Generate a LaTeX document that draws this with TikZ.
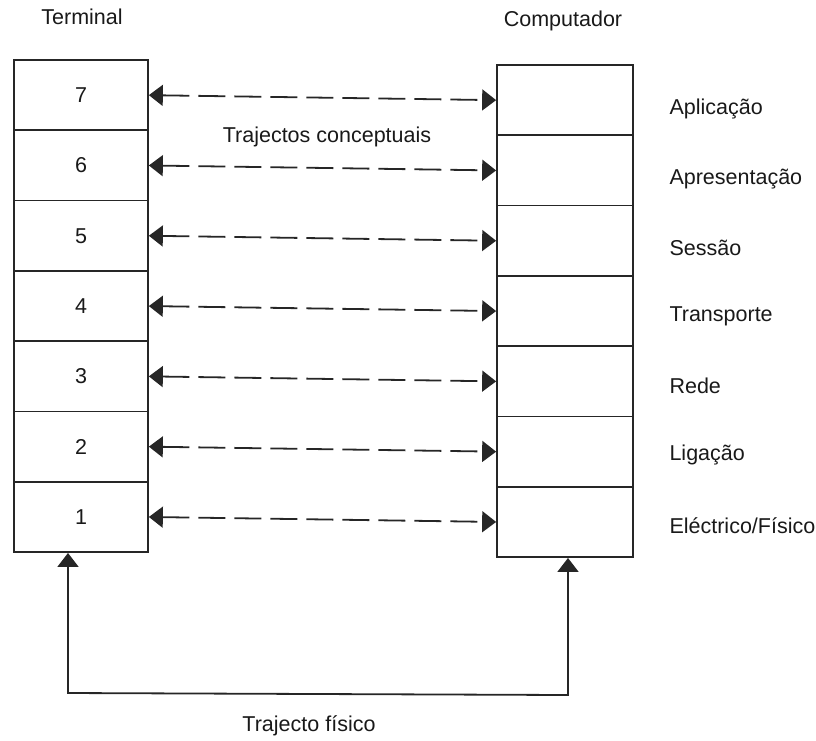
\documentclass[tikz,border=0pt]{standalone}
\usepackage{fontspec}
\setmainfont{Liberation Sans}
\usetikzlibrary{arrows.meta}
\begin{document}
\begin{tikzpicture}[x=1pt,y=-1pt,
  every node/.style={font=\fontsize{21.5}{25}\selectfont, text=black!90},
  layer/.style={draw=black!85, line width=1.7pt, minimum height=70.3pt, inner sep=0pt},
  lbox/.style={layer, minimum width=134pt},
  rbox/.style={layer, minimum width=136pt},
  lbl/.style={anchor=west},
  concept/.style={draw=black!85, line width=1.8pt, dash pattern=on 27pt off 9pt,
    {Triangle[length=14pt,width=21pt]}-{Triangle[length=14pt,width=21pt]}},
  phys/.style={draw=black!85, line width=1.8pt,
    {Triangle[length=14pt,width=21pt]}-{Triangle[length=14pt,width=21pt]}}
]
\useasboundingbox (0,0) rectangle (816,740);
\foreach \k in {1,...,7}{
  \pgfmathsetmacro{\yl}{60+70.3*(7-\k)+35.15}
  \pgfmathsetmacro{\yr}{65+70.3*(7-\k)+35.15}
  \node[lbox] (L\k) at (81,\yl) {\k};
  \node[rbox] (R\k) at (565,\yr) {};
}
\node (term) at (82,17) {Terminal};
\node (comp) at (563,21) {Computador};
\node (tc) at (327,137) {Trajectos conceptuais};
\node[lbl] (n7) at (666,109) {Aplicação};
\node[lbl] (n6) at (666,179) {Apresentação};
\node[lbl] (n5) at (666,248) {Sessão};
\node[lbl] (n4) at (666,316) {Transporte};
\node[lbl] (n3) at (666,386) {Rede};
\node[lbl] (n2) at (666,455) {Ligação};
\node[lbl] (n1) at (666,526) {Eléctrico/Físico};
\foreach \k in {1,...,7}{
  \draw[concept] (L\k.east) -- (R\k.west);
}
\coordinate (pl) at (68,693);
\coordinate (pr) at (568,695);
\draw[phys] (pl |- L1.south) -- (pl) -- (pr) -- (pr |- R1.south);
\node (tf) at (309,726) {Trajecto físico};
\end{tikzpicture}
\end{document}
